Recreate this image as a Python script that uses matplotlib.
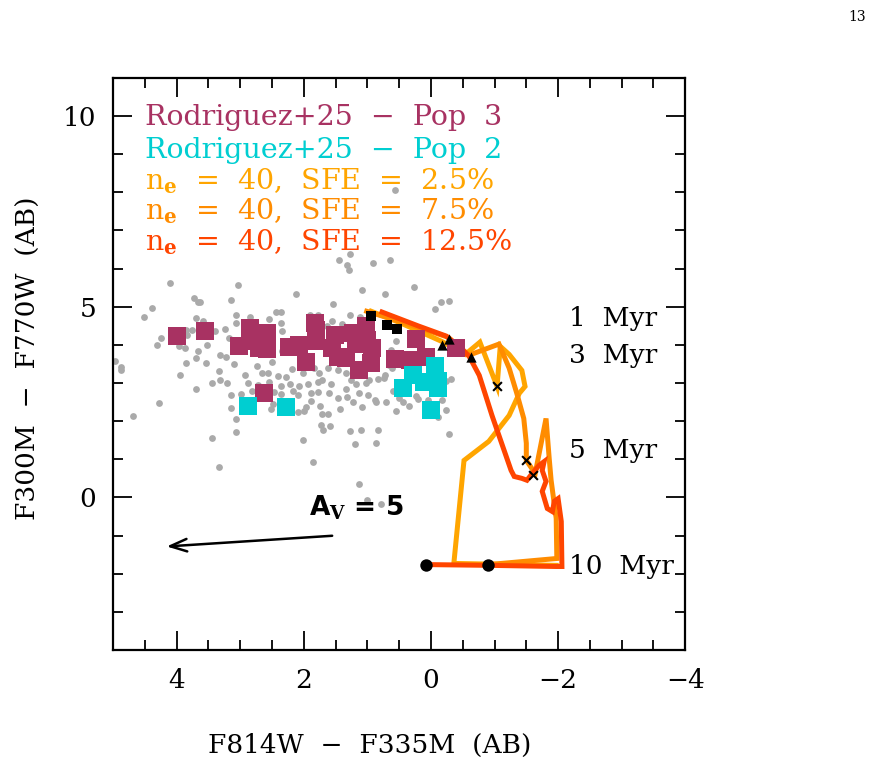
import matplotlib
matplotlib.use('Agg')
import matplotlib.pyplot as plt
import numpy as np

plt.rcParams['font.family'] = 'DejaVu Serif'
plt.rcParams['mathtext.fontset'] = 'dejavuserif'

# --- grey background sample (x = F814W-F335M, y = F300M-F770W) ---
grey_x = [1.45, 1.32, 1.29, 0.91, 0.65, 4.11, 3.04, 2.13, 1.09, 0.72, 0.27, -0.16, -0.28, -0.06,
          3.15, 3.72, 3.67, 3.64, 4.39, 4.52, 1.54, 3.70, 3.59, 3.06, 2.85, 2.43, 2.36, 2.55,
          2.36, 3.06, 1.91, 1.78, 1.64, 1.56, 1.28, 1.12, 1.40, 3.86, 3.76, 3.83, 4.25, 4.31,
          3.97, 3.87, 3.67, 3.53, 3.39, 3.24, 3.18, 3.32, 3.23, 3.69, 3.54, 3.86, 4.97, 4.88,
          4.88, 3.95, 3.34, 3.10, 2.93, 2.74, 2.66, 2.50, 2.57, 2.41, 2.28, 2.19, 2.02, 1.84,
          1.76, 1.62, 1.46, 1.34, 1.18, 0.72, 0.61, 3.45, 3.31, 3.20, 2.88, 2.72, 2.54, 2.36,
          2.22, 2.08, 1.94, 1.78, 1.57, 1.34, 1.18, 1.02, 0.83, 0.74, 3.70, 3.15, 2.98, 2.82,
          2.47, 2.36, 2.17, 2.09, 1.89, 1.78, 1.61, 1.46, 1.32, 1.13, 0.99, 0.88, 0.71, 0.60,
          0.50, 0.44, 0.35, 0.20, 0.05, -0.11, -0.24, -0.31, 4.28, 4.68, 3.07, 3.15, 2.49, 2.52,
          2.09, 2.00, 1.97, 1.89, 1.75, 1.72, 1.62, 1.43, 1.23, 1.09, 0.87, 0.55, 3.06, 3.45,
          2.02, 1.73, 1.70, 1.59, 1.28, 1.10, 0.83, 1.20, 0.87, -0.28, 3.34, 1.86, 1.13, 0.57,
          1.28, 1.01, 0.79, 2.35, 2.35, 1.72, 1.26, 0.98, 0.66, 0.55, 0.63, 0.24, -0.17, -0.24]
grey_y = [6.22, 6.09, 5.96, 6.14, 6.22, 5.62, 5.56, 5.33, 5.43, 5.33, 5.51, 5.12, 5.14, 4.93,
          5.17, 5.22, 5.12, 5.12, 4.96, 4.72, 5.07, 4.70, 4.62, 4.78, 4.72, 4.86, 4.86, 4.67,
          4.57, 4.57, 4.78, 4.78, 4.49, 4.62, 4.78, 4.72, 4.54, 4.38, 4.38, 4.25, 4.17, 3.99,
          3.96, 3.91, 3.83, 3.99, 4.36, 4.41, 4.17, 3.73, 3.67, 3.65, 3.52, 3.52, 3.57, 3.41,
          3.33, 3.20, 3.31, 3.49, 3.20, 3.44, 3.25, 3.54, 3.25, 3.18, 3.15, 3.36, 3.25, 3.39,
          3.25, 3.39, 3.33, 3.25, 3.28, 3.20, 3.39, 2.99, 3.07, 2.99, 2.99, 2.94, 3.02, 2.91,
          2.97, 2.91, 2.97, 3.02, 2.97, 2.83, 2.97, 2.99, 3.10, 3.12, 2.83, 2.68, 2.70, 2.78,
          2.76, 2.70, 2.78, 2.68, 2.73, 2.76, 2.73, 2.60, 2.62, 2.73, 2.68, 2.55, 2.49, 2.78,
          2.60, 2.49, 2.39, 2.57, 2.55, 2.10, 2.28, 3.10, 2.47, 2.13, 2.05, 2.34, 2.44, 2.31,
          2.23, 2.26, 2.36, 2.52, 2.41, 2.20, 2.20, 2.31, 2.49, 2.36, 2.49, 2.26, 1.71, 1.57,
          1.50, 1.89, 1.78, 1.86, 1.73, 1.76, 1.76, 1.39, 1.44, 1.65, 0.81, 0.92, 0.34, 8.06,
          6.38, -0.08, -0.18, 4.36, 3.83, 3.07, 3.07, 3.07, 3.46, 4.09, 3.86, 2.65, 2.55, 3.04]

# --- Rodriguez+25 populations ---
pop3_x = [4.00, 3.56, 2.85, 2.58, 3.02, 2.82, 2.71, 2.58, 2.24, 2.08, 1.83, 1.80, 1.81, 1.97,
          1.51, 1.56, 1.46, 1.34, 1.23, 1.18, 1.02, 1.01, 0.93, 0.94, 1.13, 0.57, 0.33, 0.08,
          0.24, -0.39, 2.63]
pop3_y = [4.23, 4.36, 4.44, 4.30, 3.96, 4.09, 3.91, 3.88, 3.94, 3.99, 4.57, 4.38, 4.09, 3.54,
          4.25, 3.91, 3.67, 3.65, 4.30, 4.02, 4.49, 4.12, 3.91, 3.52, 3.33, 3.62, 3.60, 3.67,
          4.15, 3.91, 2.73]
pop2_x = [2.87, 2.28, 0.44, 0.28, 0.11, -0.06, -0.11, -0.11, 0.00]
pop2_y = [2.41, 2.36, 2.86, 3.20, 3.02, 3.44, 3.04, 2.86, 2.28]

# --- model tracks, n_e = 40 ---
sfe25_x = [0.94, 0.50, -0.17, -0.54, -0.77, -1.04, -1.09, -1.23, -1.43, -1.48, -1.39, -1.23,
           -0.91, -0.52, -0.36, -1.97]
sfe25_y = [4.88, 4.59, 4.09, 3.75, 4.07, 2.91, 3.96, 3.75, 3.33, 2.91, 2.73, 2.15,
           1.47, 0.97, -1.73, -1.78]
sfe75_x = [1.01, 0.50, -0.27, -0.60, -1.07, -1.23, -1.35, -1.46, -1.50, -1.50, -1.64, -1.81,
           -1.86, -1.89, -1.97, -1.98, -0.91]
sfe75_y = [4.88, 4.62, 4.20, 3.73, 4.02, 3.39, 2.73, 2.07, 1.42, 0.97, 0.63, 2.07,
           1.02, 0.45, -0.55, -1.60, -1.76]
sfe125_x = [0.77, 0.19, -0.24, -0.47, -0.60, -0.76, -0.96, -1.26, -1.31, -1.43, -1.51, -1.57,
            -1.70, -1.78, -1.75, -1.81, -1.75, -1.83, -1.91, -1.94, -2.00, -2.05, -2.06, -1.97,
            -0.91, 0.08]
sfe125_y = [4.86, 4.49, 4.23, 3.91, 3.70, 3.20, 2.15, 0.71, 0.55, 0.50, 0.45, 0.58,
            0.84, 0.94, 0.71, 0.42, 0.16, -0.29, -0.37, -0.10, -0.03, -0.63, -1.81, -1.81,
            -1.78, -1.76]

# age markers
age1_x, age1_y = [0.945, 0.69, 0.535], [4.75, 4.51, 4.41]
age3_x, age3_y = [-0.17, -0.28, -0.63], [3.99, 4.15, 3.67]
age5_x, age5_y = [-1.04, -1.50, -1.61], [2.91, 0.97, 0.58]
age10_x, age10_y = [0.08, -0.90], [-1.76, -1.78]

age_labels = ['1  Myr', '3  Myr', '5  Myr', '10  Myr']
age_label_y = [4.70, 3.73, 1.23, -1.81]

c_pop3 = '#A83262'
c_pop2 = '#00CED1'
c_25 = '#FFA500'
c_75 = '#FF8C00'
c_125 = '#FF4500'

fig = plt.figure(figsize=(8.79, 7.66), dpi=100)
ax = fig.add_axes([0.1286, 0.1514, 0.651, 0.747])

ax.scatter(grey_x, grey_y, s=24, color='#AAAAAA', lw=0, zorder=1)

ax.plot(sfe25_x, sfe25_y, color=c_25, lw=3.6, zorder=2, solid_joinstyle='miter')
ax.plot(sfe75_x, sfe75_y, color=c_75, lw=3.6, zorder=2, solid_joinstyle='miter')
ax.plot(sfe125_x, sfe125_y, color=c_125, lw=3.6, zorder=2, solid_joinstyle='miter')

ax.scatter(pop3_x, pop3_y, s=150, marker='s', color=c_pop3, lw=0, zorder=3)
ax.scatter(pop2_x, pop2_y, s=150, marker='s', color=c_pop2, lw=0, zorder=3)

ax.scatter(age1_x, age1_y, s=45, marker='s', color='black', lw=0, zorder=4)
ax.scatter(age3_x, age3_y, s=55, marker='^', color='black', lw=0, zorder=4)
ax.scatter(age5_x, age5_y, s=40, marker='x', color='black', lw=1.5, zorder=4)
ax.scatter(age10_x, age10_y, s=80, marker='o', color='black', lw=0, zorder=4)

for lab, yy in zip(age_labels, age_label_y):
    ax.text(-2.17, yy, lab, fontsize=19, va='center', ha='left', zorder=5)

# legend as coloured text
leg = [('Rodriguez+25  \u2212  Pop  3', c_pop3),
       ('Rodriguez+25  \u2212  Pop  2', c_pop2),
       (r'n$_\mathbf{e}$  =  40,  SFE  =  2.5%', c_25),
       (r'n$_\mathbf{e}$  =  40,  SFE  =  7.5%', c_75),
       (r'n$_\mathbf{e}$  =  40,  SFE  =  12.5%', c_125)]
leg_y = [9.97, 9.09, 8.3, 7.5, 6.7]
for (txt, col), yy in zip(leg, leg_y):
    ax.text(4.5, yy, txt, color=col, fontsize=20.5, va='center', ha='left')

# extinction vector
ax.annotate('', xy=(4.2, -1.29), xytext=(1.51, -1.0),
            arrowprops=dict(arrowstyle='->,head_length=1.2,head_width=0.45', lw=1.8, color='black'))
ax.text(1.18, -0.27, r'A$_\mathbf{V}$ = 5', fontsize=19, fontweight='bold',
        family='DejaVu Sans', ha='center', va='center')

ax.set_xlim(5, -4)
ax.set_ylim(-4, 11)
ax.set_xticks([4, 2, 0, -2, -4])
ax.set_xticks(np.arange(-4, 5.01, 0.5), minor=True)
ax.set_yticks([0, 5, 10])
ax.set_yticks(np.arange(-4, 11.01, 1), minor=True)
ax.tick_params(which='both', direction='in', top=True, right=True, width=1.3, labelsize=19)
ax.tick_params(axis='x', pad=13)
ax.tick_params(axis='y', pad=12)
ax.tick_params(which='major', length=14)
ax.tick_params(which='minor', length=7)
for sp in ax.spines.values():
    sp.set_linewidth(1.6)

ax.set_xlabel('F814W  \u2212  F335M  (AB)', fontsize=19)
ax.set_ylabel('F300M  \u2212  F770W  (AB)', fontsize=19)
ax.xaxis.set_label_coords(0.448, -0.145)
ax.yaxis.set_label_coords(-0.126, 0.51)

fig.text(0.985, 0.978, '13', fontsize=10, ha='right', va='center')

fig.savefig('out.png', dpi=100)
